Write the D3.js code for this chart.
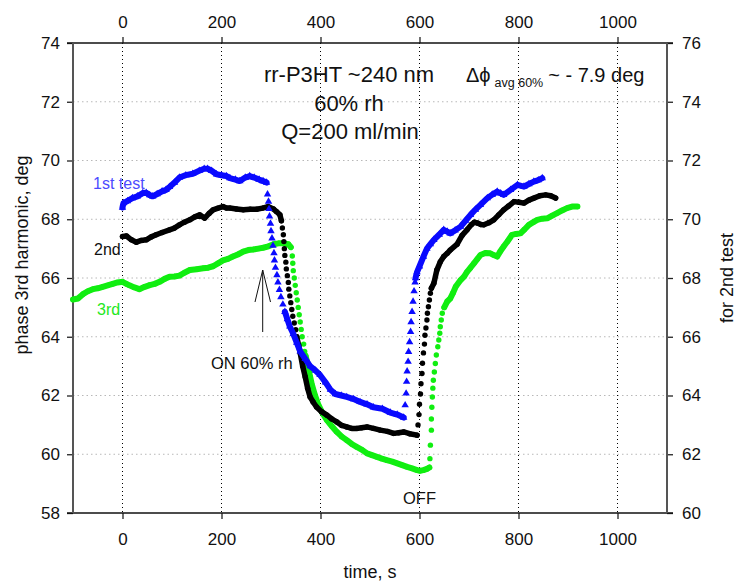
<!DOCTYPE html>
<html><head><meta charset="utf-8">
<script src="https://cdn.jsdelivr.net/npm/d3@7"></script>
<style>
body{margin:0;background:#fff}
svg{display:block;font-family:"Liberation Sans",Arial,sans-serif}
</style>
</head><body>
<svg id="c" width="737" height="586"></svg>
<script>
// ---------- tick labels ----------
const xTicks = [0, 200, 400, 600, 800, 1000];
const yLeftTicks = [58, 60, 62, 64, 66, 68, 70, 72, 74];
const yRightTicks = [60, 62, 64, 66, 68, 70, 72, 74, 76];
const gridY = [60, 62, 64, 66, 68, 70, 72];

// ---------- 1st test (blue triangles, left axis) ----------
const blueBefore = [[0,68.4],[2,68.55],[10,68.62],[20,68.72],[30,68.78],[41,68.89],[48,68.9],[55,68.82],[61,68.78],[70,68.86],[80,68.95],[88,69.0],[95,69.1],[105,69.25],[115,69.42],[128,69.5],[142,69.55],[155,69.65],[165,69.72],[172,69.72],[180,69.65],[190,69.53],[200,69.5],[210,69.47],[217,69.4],[228,69.35],[237,69.3],[248,69.42],[257,69.47],[266,69.42],[276,69.35],[284,69.3],[291,69.25]];
const blueDrop = [[293,68.85],[295,68.6],[296,68.35],[297,68.1],[299,67.85],[300,67.6],[302,67.35],[304,67.1],[306,66.85],[307,66.6],[309,66.35],[312,66.1],[314,65.85],[317,65.6],[320,65.35],[324,65.1]];
const blueLow = [[328,64.85],[333,64.6],[338,64.35],[345,64.1],[352,63.8],[359,63.5],[369,63.25],[379,63.0],[390,62.85],[399,62.7],[410,62.45],[420,62.2],[430,62.05],[442,62.0],[453,61.95],[467,61.88],[480,61.78],[494,61.7],[507,61.6],[525,61.55],[541,61.42],[555,61.35],[568,61.25]];
const blueRise = [[571,61.67],[573,62.07],[574,62.47],[575,62.82],[577,63.15],[578,63.49],[580,63.82],[582,64.17],[583,64.5],[585,64.85],[587,65.2],[589,65.55],[591,65.85]];
const blueAfter = [[592,66.0],[595,66.2],[600,66.4],[608,66.73],[615,67.0],[622,67.15],[629,67.3],[640,67.48],[649,67.64],[656,67.58],[662,67.52],[672,67.62],[683,67.75],[693,67.95],[703,68.15],[713,68.33],[723,68.49],[737,68.72],[747,68.84],[757,68.94],[764,68.88],[770,68.83],[784,69.0],[798,69.17],[811,69.11],[821,69.2],[831,69.28],[840,69.33],[848,69.4]];

// ---------- 2nd test (black circles, right axis) ----------
const blackBefore = [[0,69.41],[8,69.43],[18,69.3],[28,69.22],[38,69.28],[48,69.3],[58,69.4],[68,69.47],[80,69.55],[95,69.64],[105,69.7],[115,69.81],[125,69.9],[136,69.98],[146,70.08],[156,70.15],[166,70.04],[175,70.2],[183,70.32],[193,70.38],[203,70.43],[210,70.38],[217,70.38],[230,70.35],[244,70.32],[258,70.34],[271,70.34],[283,70.38],[294,70.43],[305,70.35],[311,70.26],[318,70.15],[321,69.95]];
const blackDrop = [[323,69.7],[325,69.47],[326,69.24],[327,69.0],[328,68.77],[330,68.54],[331,68.31],[333,68.08],[335,67.85],[336,67.62],[338,67.39],[340,67.16],[342,66.93],[344,66.7],[347,66.47],[350,66.24]];
const blackLow = [[352,66.0],[356,65.7],[359,65.45],[364,65.0],[369,64.64],[374,64.25],[379,63.95],[385,63.78],[392,63.61],[402,63.45],[413,63.33],[423,63.2],[433,63.1],[443,62.98],[453,62.93],[463,62.88],[473,62.88],[483,62.9],[494,62.93],[507,62.88],[521,62.82],[535,62.78],[548,62.71],[558,62.73],[568,62.76],[580,62.7],[595,62.65]];
const blackRise = [[597,63.0],[599,63.35],[600,63.7],[602,64.05],[603,64.4],[605,64.75],[606,65.1],[608,65.45],[610,65.75],[611,66.05],[613,66.3],[615,66.57],[616,66.8],[618,67.02],[620,67.25],[622,67.48]];
const blackAfter = [[624,67.65],[629,67.82],[635,68.27],[642,68.55],[649,68.73],[656,68.84],[662,68.95],[676,69.15],[686,69.45],[696,69.64],[705,69.82],[711,69.9],[717,69.87],[724,69.82],[730,69.81],[740,69.88],[750,69.98],[760,70.15],[770,70.32],[780,70.45],[791,70.6],[801,70.58],[811,70.55],[821,70.65],[831,70.72],[843,70.8],[855,70.83],[865,70.8],[875,70.72]];

// ---------- 3rd test (green, left axis) ----------
const greenBefore = [[-100,65.27],[-90,65.3],[-80,65.45],[-70,65.55],[-60,65.62],[-50,65.65],[-40,65.7],[-30,65.75],[-20,65.8],[-10,65.85],[0,65.87],[8,65.8],[14,65.75],[24,65.68],[34,65.62],[45,65.7],[55,65.76],[65,65.8],[75,65.87],[85,65.97],[95,66.04],[105,66.05],[115,66.08],[125,66.18],[136,66.27],[150,66.3],[163,66.33],[173,66.35],[183,66.4],[193,66.5],[203,66.6],[213,66.65],[223,66.73],[233,66.8],[244,66.9],[254,66.95],[264,66.97],[274,67.0],[284,67.03],[295,67.08],[305,67.15],[315,67.18],[325,67.18],[335,67.15],[340,67.05]];
const greenDrop = [[343,66.75],[344,66.5],[345,66.25],[347,66.0],[349,65.75],[351,65.5],[353,65.25],[355,65.0],[357,64.75],[359,64.5],[361,64.25],[363,64.0],[366,63.75],[368,63.5]];
const greenLow = [[370,63.35],[372,63.2],[377,62.8],[382,62.41],[389,62.0],[396,61.67],[404,61.4],[413,61.16],[423,60.95],[433,60.76],[443,60.6],[453,60.48],[463,60.35],[473,60.25],[484,60.15],[494,60.03],[504,59.97],[514,59.91],[524,59.85],[534,59.8],[545,59.75],[555,59.69],[565,59.63],[575,59.57],[585,59.52],[595,59.46],[601,59.44],[608,59.46],[615,59.5],[620,59.55]];
const greenRise = [[621,59.85],[622,60.31],[624,60.82],[624,61.2],[625,61.6],[626,61.95],[627,62.25],[628,62.52],[630,62.8],[632,63.09],[634,63.38],[637,63.66],[639,63.89],[641,64.12],[642,64.34],[644,64.57],[646,64.8]];
const greenAfter = [[650,65.0],[656,65.2],[662,65.3],[668,65.5],[673,65.7],[683,65.93],[690,66.05],[696,66.21],[703,66.35],[710,66.5],[717,66.65],[723,66.78],[733,66.85],[743,66.84],[750,66.78],[757,66.73],[763,66.9],[770,67.07],[778,67.25],[787,67.47],[795,67.5],[804,67.52],[812,67.65],[821,67.81],[830,67.9],[838,67.98],[848,68.02],[858,68.03],[868,68.12],[878,68.21],[888,68.3],[898,68.38],[908,68.43],[919,68.43]];

// ---------- scales ----------
const svg = d3.select('#c');
const x = d3.scaleLinear().domain([-100, 1100]).range([73, 667]);
const yL = d3.scaleLinear().domain([58, 74]).range([513, 43]);
const yR = d3.scaleLinear().domain([60, 76]).range([513, 43]);
const [X0, X1] = x.range();
const [Y0, Y1] = [yL.range()[1], yL.range()[0]];
const fmt = d3.format('d');

// ---------- grid ----------
svg.append('g').selectAll('line').data(gridY).join('line')
  .attr('x1', X0).attr('x2', X1).attr('y1', d => yL(d)).attr('y2', d => yL(d))
  .attr('stroke', '#b8b8b8').attr('stroke-width', 1).attr('stroke-dasharray', '1.5,3');
svg.append('g').selectAll('line').data(xTicks).join('line')
  .attr('x1', d => x(d)).attr('x2', d => x(d)).attr('y1', Y0).attr('y2', Y1)
  .attr('stroke', '#000').attr('stroke-width', 1).attr('stroke-dasharray', '1,3');

// ---------- axes ----------
function styleAxis(g) {
  g.select('.domain').remove();
  g.selectAll('text').attr('font-size', 17).attr('fill', '#111')
    .attr('font-family', '"Liberation Sans",Arial,sans-serif');
  g.selectAll('.tick line').attr('stroke', '#222').attr('stroke-width', 1.3);
}
svg.append('g').attr('transform', `translate(0,${Y0})`)
  .call(d3.axisTop(x).tickValues(xTicks).tickFormat(fmt).tickSize(6).tickPadding(9)).call(styleAxis);
svg.append('g').attr('transform', `translate(0,${Y1})`)
  .call(d3.axisBottom(x).tickValues(xTicks).tickFormat(fmt).tickSize(6).tickPadding(14)).call(styleAxis);
svg.append('g').attr('transform', `translate(${X0},0)`)
  .call(d3.axisLeft(yL).tickValues(yLeftTicks).tickFormat(fmt).tickSize(6).tickPadding(7)).call(styleAxis);
svg.append('g').attr('transform', `translate(${X1},0)`)
  .call(d3.axisRight(yR).tickValues(yRightTicks).tickFormat(fmt).tickSize(6).tickPadding(9)).call(styleAxis);

// frame
svg.append('line').attr('x1', X0 - 6).attr('x2', X1 + 6).attr('y1', Y0).attr('y2', Y0).attr('stroke', '#111').attr('stroke-width', 1.5);
svg.append('line').attr('x1', X0 - 6).attr('x2', X1 + 6).attr('y1', Y1).attr('y2', Y1).attr('stroke', '#111').attr('stroke-width', 1.5);
svg.append('line').attr('x1', X0).attr('x2', X0).attr('y1', Y0).attr('y2', Y1).attr('stroke', '#555').attr('stroke-width', 2);
svg.append('line').attr('x1', X1).attr('x2', X1).attr('y1', Y0).attr('y2', Y1).attr('stroke', '#555').attr('stroke-width', 2);

// ---------- series ----------
const tri = d3.symbol().type(d3.symbolTriangle).size(24);
function drawBand(pts, ys, color, w) {
  svg.append('path').datum(pts)
    .attr('d', d3.line().x(d => x(d[0])).y(d => ys(d[1])))
    .attr('fill', 'none').attr('stroke', color).attr('stroke-width', w)
    .attr('stroke-linejoin', 'round').attr('stroke-linecap', 'round');
}
function drawMarks(pts, ys, color, shape) {
  const g = svg.append('g').attr('fill', color);
  if (shape === 'tri') {
    g.selectAll('path').data(pts).join('path')
      .attr('d', tri).attr('transform', d => `translate(${x(d[0])},${ys(d[1])})`);
  } else {
    g.selectAll('circle').data(pts).join('circle')
      .attr('cx', d => x(d[0])).attr('cy', d => ys(d[1])).attr('r', 2.7);
  }
}
function series(bands, dots, ys, color, shape, w) {
  bands.forEach(b => { drawBand(b, ys, color, w); drawMarks(b, ys, color, shape); });
  dots.forEach(d => drawMarks(d, ys, color, shape));
}
series([greenBefore, greenLow, greenAfter], [greenDrop, greenRise], yL, '#11ee11', 'circle', 6);
series([blackBefore, blackLow, blackAfter], [blackDrop, blackRise], yR, '#000000', 'circle', 5.5);
series([blueBefore, blueLow, blueAfter], [blueDrop, blueRise], yL, '#0a0aff', 'tri', 6);

// ---------- texts ----------
const T = (tx, ty, s, size, opts = {}) => {
  const t = svg.append('text').attr('x', tx).attr('y', ty).attr('font-size', size)
    .attr('fill', opts.fill || '#111').attr('text-anchor', opts.anchor || 'start').text(s);
  if (opts.rot) t.attr('transform', `rotate(${opts.rot},${tx},${ty})`);
  return t;
};
T(349, 82, 'rr-P3HT ~240 nm', 22, {anchor: 'middle'});
T(349, 111, '60% rh', 22, {anchor: 'middle'});
T(350, 139, 'Q=200 ml/min', 22, {anchor: 'middle'});

const dt = svg.append('text').attr('x', 466).attr('y', 82).attr('font-size', 20).attr('fill', '#111');
dt.append('tspan').text('Δϕ');
dt.append('tspan').attr('font-size', 12.5).attr('dy', 5).attr('dx', 4).text('avg 60%');
dt.append('tspan').attr('dy', -5).attr('dx', 5).text('~ - 7.9 deg');

T(93, 189, '1st test', 16, {fill: '#4b4bff'});
T(94, 255, '2nd', 16);
T(97, 315, '3rd', 16, {fill: '#22e822'});
T(211, 369, 'ON 60% rh', 16.5);
T(403, 504, 'OFF', 16.5);

// arrow
svg.append('line').attr('x1', 262.7).attr('x2', 262.7).attr('y1', 332).attr('y2', 270).attr('stroke', '#111').attr('stroke-width', 1);
svg.append('path').attr('d', 'M255,302L262.7,270L270.5,302').attr('fill', 'none').attr('stroke', '#111').attr('stroke-width', 1);

// axis titles
T(370, 578, 'time, s', 18, {anchor: 'middle'});
T(28, 255, 'phase 3rd harmonic, deg', 18, {anchor: 'middle', rot: -90});
T(733, 278, 'for 2nd test', 18, {anchor: 'middle', rot: -90});
</script>
</body></html>
